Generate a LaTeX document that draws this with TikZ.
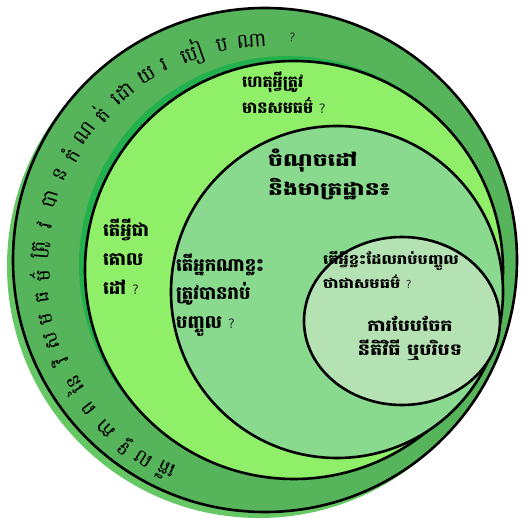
\documentclass[tikz,border=0pt]{standalone}
\usepackage{fontspec}
\newfontfamily\kh[Script=Khmer]{Battambang}
\newfontfamily\khw[Script=Khmer, FakeStretch=1.2]{Battambang}
\newfontfamily\khww[Script=Khmer, FakeStretch=1.3]{Battambang}
\newfontfamily\qf{DejaVu Sans}
\usetikzlibrary{calc,shapes.geometric}
\definecolor{ringfill}{HTML}{56B45A}
\definecolor{ringshadow}{HTML}{66C864}
\definecolor{limefill}{HTML}{8FEF69}
\definecolor{limeshadow}{HTML}{22B14C}
\definecolor{midfill}{HTML}{89D98F}
\definecolor{innerfill}{HTML}{B5E2B3}
\definecolor{qgray}{HTML}{333333}
\newcommand{\qmark}[1]{{\qf\mdseries\fontsize{#1}{#1}\selectfont\color{qgray}?}}
\tikzset{
  blk/.style={draw=black, line width=2.6pt},
  disc/.style={circle, inner sep=0pt, outer sep=0pt},
  kt/.style={font=\kh\bfseries\fontsize{17}{27}\selectfont, align=left, inner sep=0pt, anchor=west},
  ringtxt/.style={font=\kh\fontsize{20}{22}\selectfont, inner sep=0pt},
  qm/.style={font=\qf\fontsize{12}{12}\selectfont, text=qgray}
}
\begin{document}
\begin{tikzpicture}[x=1pt,y=-1pt]
\useasboundingbox (0,0) rectangle (525,518);
% outer ring
\node[disc, fill=ringshadow, minimum size=504pt] (outershadow) at (259,266) {};
\node[disc, fill=ringfill, blk, minimum size=504pt] (outer) at (265,260) {};
% second circle
\node[disc, fill=limeshadow, minimum size=418pt] (limeshad) at (288,265) {};
\node[disc, fill=limefill, blk, minimum size=418pt] (lime) at (294,270) {};
% third circle
\node[disc, fill=midfill, blk, minimum size=332pt] (mid) at (337,292) {};
% inner
\node[ellipse, inner sep=0pt, fill=innerfill, blk, minimum width=196pt, minimum height=168pt] (inner) at (402,321) {};

% texts
\node[kt, font=\kh\bfseries\fontsize{16}{26}\selectfont] (t1) at (242,93) {ហេតុអ្វីត្រូវ\\មានសមធម៌ \qmark{13}};
\node[kt, font=\khww\bfseries\fontsize{18}{29}\selectfont] (t2) at (268,174) {ចំណុចដៅ\\និងមាត្រដ្ឋាន៖};
\node[kt, font=\kh\bfseries\fontsize{18}{29}\selectfont] (t3) at (103,257) {តើអ្វីជា\\គោល\\ដៅ \qmark{13}};
\node[kt, font=\kh\bfseries\fontsize{18}{28.5}\selectfont] (t4) at (176,295) {តើអ្នកណាខ្លះ\\ត្រូវបានរាប់\\បញ្ចូល \qmark{13}};
\node[kt, font=\khw\bfseries\fontsize{13.5}{24}\selectfont] (t5) at (323,270) {តើអ្វីខ្លះដែលរាប់បញ្ចូល\\ថាជាសមធម៌ \qmark{11}};
\node[kt, font=\khw\bfseries\fontsize{16}{24}\selectfont, align=center, anchor=center] (t6) at (410,338) {ការបែបចែក\\នីតិវិធី ឬបរិបទ};

% ring text, spaced by cluster width
\gdef\curang{246.5}
\foreach \g/\w [count=\i] in {តើ/1.2,ល/1,ទ្ធ/1,ភា/1.4,ព/1,នៃ/1.5,វិ/1,ស/1,ម/1,ធ/1,ម៌/1,ត្រូ/1.3,វ/1,បា/1.4,ន/1,កំ/1,ណ/1.3,ត់/1,ដោ/1.7,យ/1,រ/0.9,បៀ/1.8,ប/1,ណា/1.7}{
  \pgfmathsetmacro\half{\w*5.57/2}
  \pgfmathsetmacro\ang{\curang-\half}
  \node[ringtxt, rotate=\ang-90] (r\i) at ($(268,268)+(\ang:228pt)$) {\g};
  \pgfmathsetmacro\nxt{\curang-2*\half}
  \xdef\curang{\nxt}
}
\node[qm, rotate=-6] (rq) at ($(268,268)+(84:232pt)$) {?};
\end{tikzpicture}
\end{document}
